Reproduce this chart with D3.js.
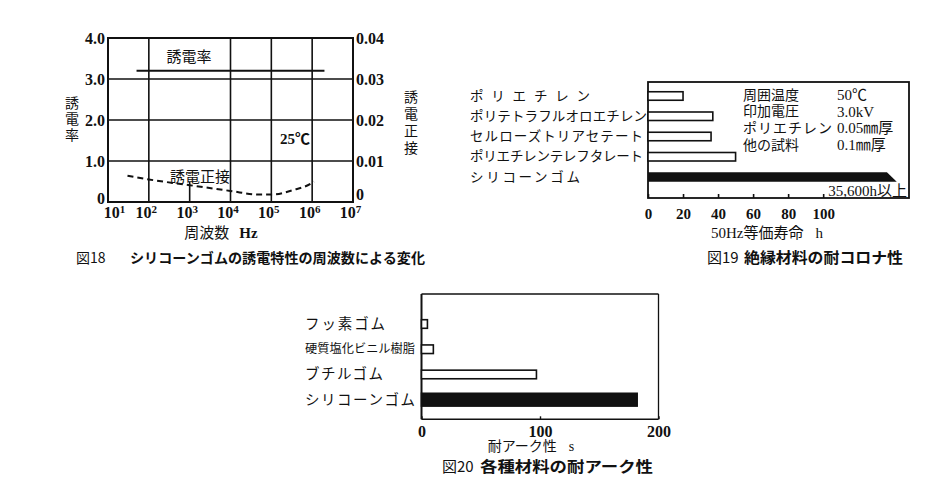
<!DOCTYPE html>
<html><head><meta charset="utf-8">
<script src="https://cdn.jsdelivr.net/npm/d3@7"></script>
<style>body{margin:0;background:#fff} svg{display:block}</style>
</head><body><svg id="c" width="937" height="490"></svg>
<script>
// ---------- Fig.18 data ----------
const freqTicks = [1e1, 1e2, 1e3, 1e4, 1e5, 1e6, 1e7];
const freqTickExponents = ["1", "2", "3", "4", "5", "6", "7"];
const permTicks = [0, 1, 2, 3, 4];
const permTickLabels = ["0", "1.0", "2.0", "3.0", "4.0"];
const lossTicks = [0, 0.01, 0.02, 0.03, 0.04];
const lossTickLabels = ["0", "0.01", "0.02", "0.03", "0.04"];
const permFreq = [50, 2e6];
const permValues = [3.2, 3.2];
const lossFreq = [30, 100, 1e3, 1e4, 5e4, 1e5, 3.4e5, 1e6, 1.1e6];
const lossValues = [0.0064, 0.0055, 0.0041, 0.0027, 0.0018, 0.0018, 0.0029, 0.0047, 0.0050];

// ---------- Fig.19 data ----------
const coronaMaterials = ["ポリエチレン", "ポリテトラフルオロエチレン", "セルローズトリアセテート", "ポリエチレンテレフタレート", "シリコーンゴム"];
const coronaLife = [20, 37, 36, 50, 35600];
const coronaTicks = [0, 20, 40, 60, 80, 100];
const coronaCondLabels = ["周囲温度", "印加電圧", "ポリエチレン", "他の試料"];
const coronaCondValues = ["50℃", "3.0kV", "0.05㎜厚", "0.1㎜厚"];
const coronaOverLabel = "35,600h以上";

// ---------- Fig.20 data ----------
const arcMaterials = ["フッ素ゴム", "硬質塩化ビニル樹脂", "ブチルゴム", "シリコーンゴム"];
const arcValues = [5, 10, 97, 182];
const arcTicks = [0, 100, 200];

// ---------- drawing ----------
const svg = d3.select("#c");
svg.append("rect").attr("width", 937).attr("height", 490).attr("fill", "#fff");
const SERIF = "'Liberation Serif','Noto Sans CJK JP',serif";
const JP = "'Noto Sans CJK JP',sans-serif";
const INK = "#111";

function styleTicks(sel, size) {
  sel.selectAll("text").attr("font-family", SERIF).attr("font-size", size)
    .attr("font-weight", "bold").attr("fill", INK);
  sel.select(".domain").remove();
}
function vText(g, str, x, y0, step, size) {
  g.append("g").selectAll("text").data(Array.from(str)).join("text")
    .attr("x", x).attr("y", (d, i) => y0 + i * step)
    .attr("text-anchor", "middle").attr("dominant-baseline", "central")
    .attr("font-family", SERIF).attr("font-size", size).attr("fill", INK).text(d => d);
}

// ===== Fig 18 =====
{
  const g = svg.append("g");
  const x = d3.scaleLog().domain([1e1, 1e7]).range([108, 353]);
  const yP = d3.scaleLinear().domain([0, 4]).range([202, 38]);
  const yL = d3.scaleLinear().domain([0, 0.04]).range([202, 38]);

  g.selectAll(".hg").data(permTicks.slice(1, -1)).join("line")
    .attr("x1", 108).attr("x2", 353).attr("y1", d => yP(d)).attr("y2", d => yP(d))
    .attr("stroke", INK).attr("stroke-width", 1.6);
  g.selectAll(".vg").data(freqTicks.slice(1, -1)).join("line")
    .attr("x1", d => x(d)).attr("x2", d => x(d))
    .attr("y1", d => d === 1e3 ? yP(0) - 20 : yP(4)).attr("y2", yP(0))
    .attr("stroke", INK).attr("stroke-width", 1.6);
  g.append("rect").attr("x", 108).attr("y", yP(4)).attr("width", 245).attr("height", yP(0) - yP(4))
    .attr("fill", "none").attr("stroke", INK).attr("stroke-width", 2);

  g.append("g").attr("transform", "translate(108,0)")
    .call(d3.axisLeft(yP).tickValues(permTicks).tickFormat((d, i) => permTickLabels[i]).tickSize(0).tickPadding(3))
    .call(s => styleTicks(s, 16))
    .call(s => s.selectAll("text").filter(d => d === 0).attr("y", -4));
  g.append("g").attr("transform", "translate(353,0)")
    .call(d3.axisRight(yL).tickValues(lossTicks).tickFormat((d, i) => lossTickLabels[i]).tickSize(0).tickPadding(3))
    .call(s => styleTicks(s, 16))
    .call(s => s.selectAll("text").filter(d => d === 0).attr("y", -8));
  const xa = g.append("g").attr("transform", "translate(0,202)")
    .call(d3.axisBottom(x).tickValues(freqTicks).tickSize(0).tickPadding(5))
    .call(s => styleTicks(s, 16));
  xa.selectAll("text").text(null).attr("x", (d, i) => i === 0 ? 6 : -3).each(function (d, i) {
    const t = d3.select(this);
    t.append("tspan").text("10");
    t.append("tspan").attr("dy", "-0.45em").attr("font-size", 11).text(freqTickExponents[i]);
  });

  const permLine = d3.line().x(d => x(d[0])).y(d => yP(d[1]));
  g.append("path").attr("d", permLine(d3.zip(permFreq, permValues)))
    .attr("fill", "none").attr("stroke", INK).attr("stroke-width", 2);
  const lossLine = d3.line().x(d => x(d[0])).y(d => yL(d[1])).curve(d3.curveMonotoneX);
  g.append("path").attr("d", lossLine(d3.zip(lossFreq, lossValues)))
    .attr("fill", "none").attr("stroke", INK).attr("stroke-width", 2).attr("stroke-dasharray", "6,4");

  g.append("text").attr("x", 189).attr("y", 57).attr("text-anchor", "middle").attr("dominant-baseline", "central")
    .attr("font-family", SERIF).attr("font-size", 15).attr("fill", INK).text("誘電率");
  g.append("text").attr("x", 295).attr("y", 139).attr("text-anchor", "middle").attr("dominant-baseline", "central")
    .attr("font-family", SERIF).attr("font-size", 15).attr("font-weight", "bold").attr("fill", INK).text("25℃");
  g.append("text").attr("x", 200).attr("y", 177).attr("text-anchor", "middle").attr("dominant-baseline", "central")
    .attr("font-family", SERIF).attr("font-size", 15).attr("fill", INK).text("誘電正接");

  vText(g, "誘電率", 72, 103, 16, 14);
  vText(g, "誘電正接", 411, 97, 17, 14);

  g.append("text").attr("x", 221).attr("y", 233).attr("text-anchor", "middle").attr("dominant-baseline", "central")
    .attr("font-family", SERIF).attr("font-size", 15).attr("fill", INK)
    .call(t => { t.append("tspan").text("周波数"); t.append("tspan").attr("dx", 10).attr("font-weight", "bold").text("Hz"); });
  g.append("text").attr("x", 76).attr("y", 257).attr("dominant-baseline", "central")
    .attr("font-family", JP).attr("font-size", 14).attr("fill", INK).text("図18");
  g.append("text").attr("x", 130).attr("y", 257).attr("dominant-baseline", "central")
    .attr("font-family", JP).attr("font-size", 14).attr("font-weight", "bold").attr("fill", INK)
    .attr("textLength", 295).attr("lengthAdjust", "spacingAndGlyphs").text("シリコーンゴムの誘電特性の周波数による変化");
}

// ===== Fig 19 =====
{
  const g = svg.append("g");
  const x = d3.scaleLinear().domain([0, 149]).range([648, 909]);
  const y = d3.scalePoint().domain(coronaMaterials).range([96, 177]);
  const top = 82, bottom = 198;
  const maxV = x.domain()[1];

  g.append("rect").attr("x", 648).attr("y", top).attr("width", 909 - 648).attr("height", bottom - top)
    .attr("fill", "none").attr("stroke", INK).attr("stroke-width", 1.8);

  const data = d3.zip(coronaMaterials, coronaLife);
  g.selectAll(".bar").data(data.filter(d => d[1] <= maxV)).join("rect")
    .attr("x", x(0)).attr("y", d => y(d[0]) - 4.25).attr("width", d => x(d[1]) - x(0)).attr("height", 8.5)
    .attr("fill", "#fff").attr("stroke", INK).attr("stroke-width", 1.6);
  g.selectAll(".over").data(data.filter(d => d[1] > maxV)).join("path")
    .attr("d", d => {
      const yc = y(d[0]);
      return `M${x(0)},${yc - 4.7}L${x(maxV - 12.6)},${yc - 4.7}L${x(maxV - 7)},${yc + 4.7}L${x(0)},${yc + 4.7}Z`;
    }).attr("fill", INK);
  g.append("text").attr("x", 907).attr("y", 191).attr("text-anchor", "end").attr("dominant-baseline", "central")
    .attr("font-family", SERIF).attr("font-size", 15).attr("fill", INK).text(coronaOverLabel);

  g.append("g").attr("transform", `translate(0,${bottom})`)
    .call(d3.axisBottom(x).tickValues(coronaTicks).tickSizeInner(-4).tickSizeOuter(0).tickPadding(10))
    .call(s => styleTicks(s, 15))
    .call(s => s.selectAll("line").attr("stroke", INK).attr("stroke-width", 1.6));

  const widths = [120, 177, 173, 173, 110];
  g.selectAll(".lab").data(coronaMaterials).join("text")
    .attr("x", 470).attr("y", d => y(d)).attr("dominant-baseline", "central")
    .attr("font-family", SERIF).attr("font-size", 13.5).attr("fill", INK)
    .attr("textLength", (d, i) => widths[i]).attr("lengthAdjust", "spacing").text(d => d);

  g.selectAll(".cl").data(coronaCondLabels).join("text")
    .attr("x", 743).attr("y", (d, i) => 95 + i * 16.7).attr("dominant-baseline", "central")
    .attr("font-family", SERIF).attr("font-size", 14).attr("fill", INK)
    .attr("textLength", (d, i) => i === 2 ? 89 : null).attr("lengthAdjust", "spacing").text(d => d);
  g.selectAll(".cv").data(coronaCondValues).join("text")
    .attr("x", 837).attr("y", (d, i) => 95 + i * 16.7).attr("dominant-baseline", "central")
    .attr("font-family", SERIF).attr("font-size", 15).attr("fill", INK).text(d => d);

  g.append("text").attr("x", 767).attr("y", 233).attr("text-anchor", "middle").attr("dominant-baseline", "central")
    .attr("font-family", SERIF).attr("font-size", 15).attr("fill", INK)
    .call(t => { t.append("tspan").text("50Hz等価寿命"); t.append("tspan").attr("dx", 12).text("h"); });
  g.append("text").attr("x", 707).attr("y", 256).attr("dominant-baseline", "central")
    .attr("font-family", JP).attr("font-size", 15).attr("fill", INK).text("図19");
  g.append("text").attr("x", 744).attr("y", 256).attr("dominant-baseline", "central")
    .attr("font-family", JP).attr("font-size", 15).attr("font-weight", "bold").attr("fill", INK)
    .attr("textLength", 159).attr("lengthAdjust", "spacingAndGlyphs").text("絶縁材料の耐コロナ性");
}

// ===== Fig 20 =====
{
  const g = svg.append("g");
  const x = d3.scaleLinear().domain([0, 200]).range([421.5, 658.5]);
  const y = d3.scalePoint().domain(arcMaterials).range([324, 399.7]);
  const top = 294, bottom = 419.3;

  g.append("line").attr("x1", 421.5).attr("x2", 658.5).attr("y1", top).attr("y2", top).attr("stroke", INK).attr("stroke-width", 1.3);
  g.append("line").attr("x1", 658.5).attr("x2", 658.5).attr("y1", top).attr("y2", bottom).attr("stroke", INK).attr("stroke-width", 1.3);
  g.append("line").attr("x1", 421.5).attr("x2", 658.5).attr("y1", bottom).attr("y2", bottom).attr("stroke", INK).attr("stroke-width", 1.5);
  g.append("line").attr("x1", 421.5).attr("x2", 421.5).attr("y1", top).attr("y2", bottom).attr("stroke", INK).attr("stroke-width", 2);

  const data = d3.zip(arcMaterials, arcValues);
  g.selectAll(".bar").data(data).join("rect")
    .attr("x", x(0))
    .attr("y", d => y(d[0]) - (d[0] === "シリコーンゴム" ? 6.4 : 4.3))
    .attr("width", d => x(d[1]) - x(0))
    .attr("height", d => d[0] === "シリコーンゴム" ? 12.8 : 8.6)
    .attr("fill", d => d[0] === "シリコーンゴム" ? INK : "#fff")
    .attr("stroke", INK).attr("stroke-width", 1.6);

  g.append("g").attr("transform", `translate(0,${bottom})`)
    .call(d3.axisBottom(x).tickValues(arcTicks).tickSizeInner(-3).tickSizeOuter(0).tickPadding(6))
    .call(s => styleTicks(s, 16))
    .call(s => s.selectAll("line").attr("stroke", INK).attr("stroke-width", 1.4));

  const widths = [80, 110, 78, 110];
  g.selectAll(".lab").data(arcMaterials).join("text")
    .attr("x", 305).attr("y", d => y(d)).attr("dominant-baseline", "central")
    .attr("font-family", SERIF).attr("font-size", (d, i) => i === 1 ? 12.2 : 14.5).attr("fill", INK)
    .attr("textLength", (d, i) => widths[i]).attr("lengthAdjust", "spacing").text(d => d);

  g.append("text").attr("x", 531).attr("y", 446).attr("text-anchor", "middle").attr("dominant-baseline", "central")
    .attr("font-family", SERIF).attr("font-size", 14).attr("fill", INK)
    .call(t => { t.append("tspan").text("耐アーク性"); t.append("tspan").attr("dx", 12).text("s"); });
  g.append("text").attr("x", 442).attr("y", 465).attr("dominant-baseline", "central")
    .attr("font-family", JP).attr("font-size", 15).attr("fill", INK).text("図20");
  g.append("text").attr("x", 480).attr("y", 465).attr("dominant-baseline", "central")
    .attr("font-family", JP).attr("font-size", 15).attr("font-weight", "bold").attr("fill", INK)
    .attr("textLength", 173).attr("lengthAdjust", "spacingAndGlyphs").text("各種材料の耐アーク性");
}
</script></body></html>
